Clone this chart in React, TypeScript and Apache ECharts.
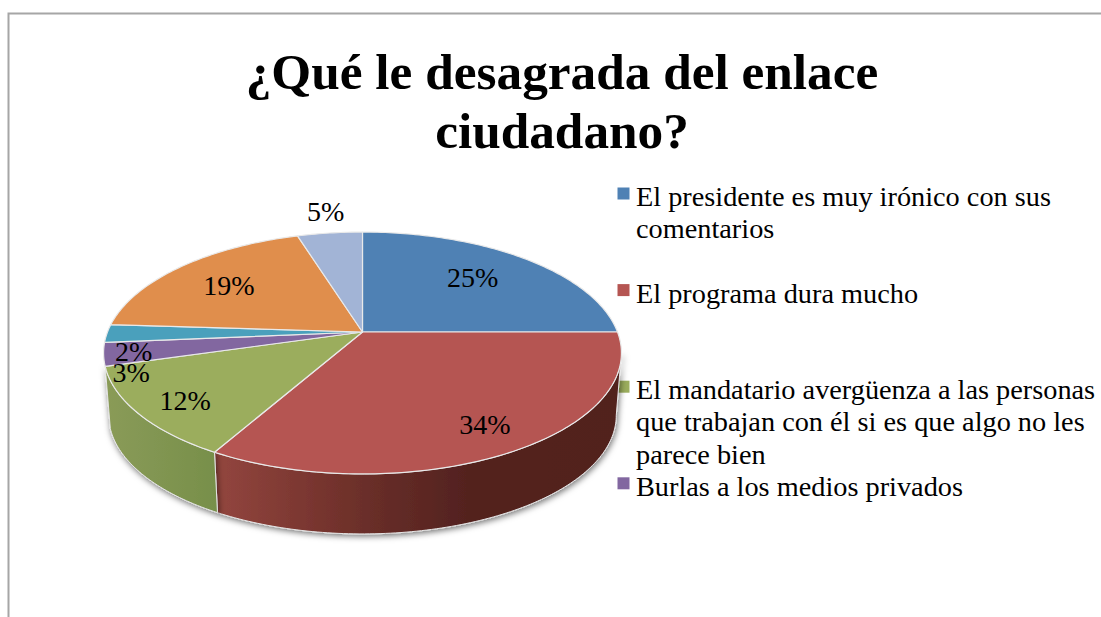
import React, { useEffect, useRef } from "react";
import * as echarts from "echarts";

const titleText = "¿Qué le desagrada del enlace\nciudadano?";
const sliceValues = [25, 33.2, 12.3, 3.1, 2.4, 19.2, 4.8];
const sliceLabels = ["25%", "34%", "12%", "3%", "2%", "19%", "5%"];
const sliceColors = ["#4F81B4", "#B55552", "#9BAD5D", "#8267A0", "#4AA0BC", "#E08E4C", "#A2B4D6"];
const legendEntries = [
  "El presidente es muy irónico con sus\ncomentarios",
  "El programa dura mucho",
  "El mandatario avergüenza a las personas\nque trabajan con él si es que algo no les\nparece bien",
  "Burlas a los medios privados",
];

const FONT = "'Liberation Serif', serif";
const CX = 362.5;
const CY = 332;
const RX = 255;
const RY = 117.3;
const K = -0.1736;
const DEPTH_CY = 394.8;
const DEPTH_SCALE = 0.98;
const SIDE_FROM = 100;
const SIDE_TO = 260;
const labelNudge: number[][] = [
  [-6, -1], [22, 13], [-26, 13], [-52, 25], [-50, 18], [-3, 1], [-13, -48],
];
const sideFills: Record<number, any> = {
  1: {
    type: "linear", x: 0, y: 0, x2: 1, y2: 0,
    colorStops: [
      { offset: 0, color: "#93463F" },
      { offset: 0.25, color: "#78352F" },
      { offset: 0.42, color: "#652C27" },
      { offset: 0.62, color: "#53221F" },
      { offset: 1, color: "#51201E" },
    ],
  },
  2: {
    type: "linear", x: 0, y: 0, x2: 1, y2: 0,
    colorStops: [
      { offset: 0, color: "#8A9B58" },
      { offset: 1, color: "#778F4A" },
    ],
  },
};

const total = sliceValues.reduce((a, b) => a + b, 0);
const startAngle = (i: number) =>
  (sliceValues.slice(0, i).reduce((a, b) => a + b, 0) / total) * 360;

function project(deg: number, r = 1, scale = 1, originY = CY): number[] {
  const t = (deg * Math.PI) / 180;
  const u = r * Math.sin(t);
  const v = -r * Math.cos(t);
  const w = 1 + K * v;
  return [CX + (scale * RX * u) / w, originY + (scale * RY * v) / w];
}

function arcPoints(a: number, b: number, scale = 1, originY = CY): number[][] {
  const pts: number[][] = [];
  const n = Math.max(2, Math.ceil(Math.abs(b - a)));
  for (let i = 0; i <= n; i++) pts.push(project(a + ((b - a) * i) / n, 1, scale, originY));
  return pts;
}

export default function App() {
  const ref = useRef<HTMLDivElement>(null);
  useEffect(() => {
    const chart = echarts.init(ref.current!, undefined, { renderer: "svg" });
    const indexData = sliceValues.map((v, i) => [i, v]);

    const legendGraphics: any[] = [];
    let row = 0;
    legendEntries.forEach((text, i) => {
      const baseline = 204.5 + row * 32.2;
      legendGraphics.push({
        type: "rect",
        shape: { x: 617.5, y: baseline - 17, width: 12, height: 12 },
        style: { fill: sliceColors[i] },
      });
      legendGraphics.push({
        type: "text",
        x: 636,
        y: baseline - 24,
        style: { text, fill: "#000", font: `28.3px ${FONT}`, lineHeight: 32.2, textAlign: "left", textVerticalAlign: "top" },
      });
      row += Math.max(3, text.split("\n").length);
    });

    chart.setOption({
      animation: false,
      backgroundColor: "#fff",
      title: {
        text: titleText,
        left: 557,
        top: 36.5,
        textAlign: "center",
        textStyle: { fontFamily: FONT, fontWeight: "bold", fontSize: 51.3, lineHeight: 59, color: "#000" },
      },
      graphic: [
        {
          type: "polyline",
          shape: { points: [[8.5, 617], [8.5, 13.5], [1101, 13.5]] },
          style: { stroke: "#A6A6A6", lineWidth: 2, fill: "none" },
        },
        ...legendGraphics,
      ],
      series: [
        {
          type: "custom",
          coordinateSystem: "none",
          silent: true,
          z: 2,
          data: indexData,
          renderItem: (_p: any, api: any) => {
            const i = api.value(0);
            const a = Math.max(startAngle(i), SIDE_FROM);
            const b = Math.min(startAngle(i + 1), SIDE_TO);
            if (!sideFills[i] || b <= a) return { type: "group", children: [] };
            const top = arcPoints(a, b);
            const bottom = arcPoints(a, b, DEPTH_SCALE, DEPTH_CY).reverse();
            return {
              type: "polygon",
              shape: { points: [...top, ...bottom] },
              style: {
                fill: sideFills[i],
                stroke: "#E4E4E4",
                lineWidth: 1,
                shadowBlur: 6,
                shadowColor: "rgba(0,0,0,0.55)",
                shadowOffsetX: 1,
                shadowOffsetY: 2,
              },
            };
          },
        },
        {
          type: "custom",
          coordinateSystem: "none",
          silent: true,
          z: 3,
          data: indexData,
          renderItem: (_p: any, api: any) => {
            const i = api.value(0);
            const pts = [[CX, CY], ...arcPoints(startAngle(i), startAngle(i + 1))];
            return {
              type: "polygon",
              shape: { points: pts },
              style: { fill: sliceColors[i], stroke: "#E9E9E9", lineWidth: 1.2, lineJoin: "round" },
            };
          },
        },
        {
          type: "custom",
          coordinateSystem: "none",
          silent: true,
          z: 4,
          data: indexData,
          renderItem: (_p: any, api: any) => {
            const i = api.value(0);
            const mid = (startAngle(i) + startAngle(i + 1)) / 2;
            const [x, y] = project(mid, 0.7);
            return {
              type: "text",
              x: x + labelNudge[i][0],
              y: y + labelNudge[i][1],
              style: {
                text: sliceLabels[i],
                fill: "#000",
                font: `28px ${FONT}`,
                textAlign: "center",
                textVerticalAlign: "middle",
              },
            };
          },
        },
      ],
    });
    return () => chart.dispose();
  }, []);
  return (
    <div
      ref={ref}
      style={{ position: "fixed", left: 0, top: 0, width: 1101, height: 617 }}
    />
  );
}
